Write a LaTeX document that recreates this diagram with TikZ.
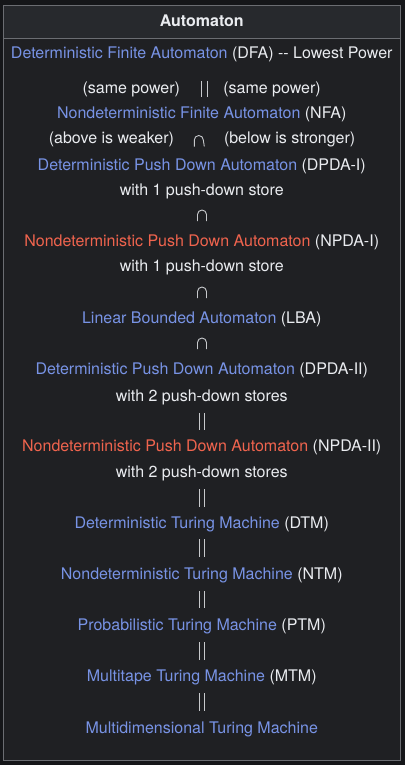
\documentclass[tikz,border=0pt]{standalone}
\usepackage{fontspec}
\setmainfont{TeX Gyre Heros}
\definecolor{pagebg}{HTML}{151619}
\definecolor{cellbg}{HTML}{1F2023}
\definecolor{headbg}{HTML}{27292D}
\definecolor{rule}{HTML}{6B6D72}
\definecolor{txt}{HTML}{EAECF0}
\definecolor{linkblue}{HTML}{7893E5}
\definecolor{linkred}{HTML}{F0644E}
\newcommand{\lk}[1]{\textcolor{linkblue}{#1}}
\newcommand{\rl}[1]{\textcolor{linkred}{#1}}
\tikzset{
  entry/.style={anchor=base, inner sep=0pt, outer sep=0pt, text=txt,
    font=\fontsize{16}{18}\selectfont},
  symline/.style={draw=txt!85!black, line width=0.9pt},
  relbox/.style={inner sep=0pt, outer sep=0pt, minimum width=#1},
  % double bar: "same power"
  eqrel/.style={relbox=5pt, minimum height=17.5pt,
    append after command={
      (\tikzlastnode.north west) edge[symline] (\tikzlastnode.south west)
      (\tikzlastnode.north east) edge[symline] (\tikzlastnode.south east)}},
  % cap sign: "weaker than"
  caprel/.style={relbox=9pt, minimum height=11pt,
    append after command={
      (\tikzlastnode.south west) edge[symline,
        to path={-- ++(0,6.5) arc[start angle=180, end angle=0, radius=4.5] -- (\tikztotarget)}]
      (\tikzlastnode.south east)}}
}
\begin{document}
\begin{tikzpicture}[x=1pt,y=1pt]
  \useasboundingbox (0,0) rectangle (405,-765);
  \fill[pagebg] (0,0) rectangle (405,-765);
  % table frame and header cell
  \fill[cellbg] (3.5,-5.3) rectangle (400,-760.5);
  \fill[headbg] (3.5,-5.3) rectangle (400,-38.3);
  \draw[rule, line width=1pt] (3.5,-5.3) rectangle (400,-760.5);
  \draw[rule, line width=1pt] (3.5,-38.3) -- (400,-38.3);

  \node[entry, font=\fontsize{16}{18}\selectfont\bfseries] (head) at (201.75,-26.7) {Automaton};

  \node[entry] (dfa) at (201.75,-58.3) {\lk{Deterministic Finite Automaton} (DFA) -{}- Lowest Power};
  \node[entry, anchor=base east] (spl) at (180,-93.4) {(same power)};
  \node[entry, anchor=base west] (spr) at (223.3,-93.4) {(same power)};
  \node[eqrel, minimum height=16pt, minimum width=5.6pt] (e0) at (204.5,-89) {};
  \node[entry] (nfa) at (201.75,-118.2) {\lk{Nondeterministic Finite Automaton} (NFA)};
  \node[entry, anchor=base east] (wk) at (174,-143.4) {(above is weaker)};
  \node[entry, anchor=base west] (st) at (224,-143.4) {(below is stronger)};
  \node[caprel, minimum width=10pt] (c0) at (199.3,-141) {};
  \node[entry] (dpdaI) at (201.75,-170) {\lk{Deterministic Push Down Automaton} (DPDA-I)};
  \node[entry] (storeA) at (201.75,-195.2) {with 1 push-down store};
  \node[caprel] (c1) at (202,-215.5) {};
  \node[entry] (npdaI) at (201.75,-246) {\rl{Nondeterministic Push Down Automaton} (NPDA-I)};
  \node[entry] (storeB) at (201.75,-271.7) {with 1 push-down store};
  \node[caprel] (c2) at (202,-292.5) {};
  \node[entry] (lba) at (201.75,-323.3) {\lk{Linear Bounded Automaton} (LBA)};
  \node[caprel] (c3) at (202,-343.5) {};
  \node[entry] (dpdaII) at (201.75,-374.3) {\lk{Deterministic Push Down Automaton} (DPDA-II)};
  \node[entry] (storeC) at (201.75,-401) {with 2 push-down stores};
  \node[eqrel] (e1) at (201.8,-421.5) {};
  \node[entry] (npdaII) at (201.75,-451) {\rl{Nondeterministic Push Down Automaton} (NPDA-II)};
  \node[entry] (storeD) at (201.75,-477.7) {with 2 push-down stores};
  \node[eqrel] (e2) at (201.8,-498) {};
  \node[entry] (dtm) at (201.75,-528.3) {\lk{Deterministic Turing Machine} (DTM)};
  \node[eqrel] (e3) at (201.8,-548) {};
  \node[entry] (ntm) at (201.75,-579) {\lk{Nondeterministic Turing Machine} (NTM)};
  \node[eqrel] (e4) at (201.8,-599.5) {};
  \node[entry] (ptm) at (201.75,-630) {\lk{Probabilistic Turing Machine} (PTM)};
  \node[eqrel] (e5) at (201.8,-651) {};
  \node[entry] (mtm) at (201.75,-681) {\lk{Multitape Turing Machine} (MTM)};
  \node[eqrel] (e6) at (201.8,-702) {};
  \node[entry] (mdtm) at (201.75,-733.3) {\lk{Multidimensional Turing Machine}};
\end{tikzpicture}
\end{document}
